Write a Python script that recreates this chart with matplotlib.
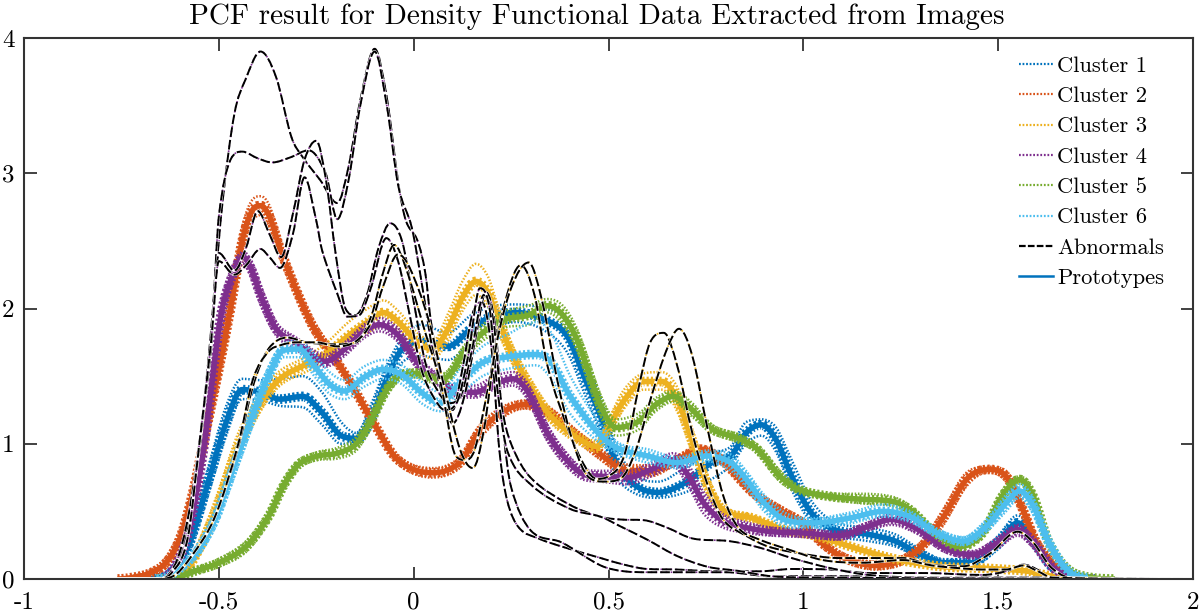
import matplotlib
matplotlib.use('Agg')
import matplotlib.pyplot as plt
from matplotlib.lines import Line2D
from matplotlib.patches import PathPatch
from matplotlib.path import Path

# cluster colours (matlab default order)
colors = ['#0072BD', '#D95319', '#EDB120', '#7E2F8E', '#77AC30', '#4DBEEE']
labels = ['Cluster 1', 'Cluster 2', 'Cluster 3', 'Cluster 4', 'Cluster 5', 'Cluster 6']

# cluster 1
c1_x = [-1,-.7,-.638,-.579,-.53,-.481,-.44,-.393,-.343,-.285,-.235,-.186,-.147,-.108,-.069,-.03,.02,.088,.147,.206,.265,.334,.393,.44,.48,.52,.57,.627,.696,.765,.814,.853,.892,.93,.97,1.02,1.08,1.167,1.236,1.295,1.363,1.432,1.5,1.55,1.59,1.638,1.70,1.75,2]
c1_y = [0,0,.02,.24,.69,1.16,1.40,1.38,1.33,1.35,1.23,1.06,1.04,1.2,1.48,1.70,1.75,1.72,1.85,1.95,1.97,1.92,1.80,1.48,1.2,.86,.69,.64,.71,.86,.91,1.08,1.14,1.03,.76,.49,.365,.33,.28,.19,.12,.12,.27,.415,.29,.09,.01,0,0]
c1_hi = [0,0,.04,.32,.8,1.28,1.48,1.47,1.48,1.50,1.38,1.16,1.08,1.3,1.58,1.78,1.88,1.82,1.95,2.02,2.03,2.0,1.92,1.62,1.33,.98,.76,.72,.82,.93,.98,1.16,1.18,1.12,.88,.58,.42,.38,.33,.23,.14,.15,.32,.47,.35,.12,.02,0,0]
c1_lo = [0,0,.01,.18,.6,1.06,1.33,1.32,1.28,1.27,1.14,1.0,1.0,1.12,1.4,1.6,1.65,1.62,1.75,1.86,1.9,1.84,1.68,1.36,1.08,.76,.63,.6,.64,.74,.84,1.0,1.06,.94,.66,.42,.32,.28,.24,.16,.1,.1,.22,.36,.24,.06,0,0,0]

# cluster 2
c2_x = [-1,-.76,-.725,-.68,-.636,-.6,-.57,-.54,-.5,-.47,-.44,-.415,-.393,-.37,-.34,-.29,-.255,-.2,-.16,-.108,-.04,.05,.118,.167,.226,.285,.343,.41,.48,.54,.607,.676,.735,.79,.87,.94,1.0,1.05,1.11,1.185,1.255,1.31,1.36,1.42,1.475,1.52,1.56,1.6,1.65,1.7,1.75,2]
c2_y = [0,0,.01,.04,.12,.3,.6,1.0,1.55,2.0,2.5,2.72,2.76,2.68,2.42,2.06,1.85,1.62,1.44,1.18,.88,.785,.86,1.08,1.23,1.29,1.24,1.08,.92,.81,.80,.88,.96,.88,.64,.51,.41,.26,.15,.10,.14,.26,.46,.74,.81,.76,.535,.26,.09,.01,0,0]
c2_hi = [0,0,.02,.06,.16,.36,.68,1.1,1.65,2.1,2.6,2.8,2.83,2.76,2.49,2.11,1.9,1.66,1.47,1.21,.91,.82,.9,1.13,1.27,1.32,1.28,1.12,.96,.85,.84,.91,.98,.91,.67,.54,.44,.29,.18,.13,.17,.3,.52,.79,.83,.8,.59,.31,.12,.02,0,0]
c2_lo = [0,0,0,.02,.08,.24,.52,.9,1.45,1.9,2.4,2.64,2.69,2.6,2.35,2.01,1.8,1.58,1.41,1.15,.85,.75,.82,1.03,1.19,1.26,1.2,1.04,.88,.77,.76,.85,.94,.85,.61,.48,.38,.23,.12,.07,.11,.22,.4,.69,.79,.72,.48,.21,.06,0,0,0]

# cluster 3
c3_x = [-1,-.66,-.618,-.57,-.51,-.45,-.393,-.343,-.285,-.226,-.167,-.118,-.078,-.039,.01,.05,.088,.125,.16,.19,.216,.255,.304,.353,.412,.47,.5,.54,.59,.637,.676,.716,.755,.794,.87,.95,1.03,1.11,1.19,1.265,1.363,1.46,1.52,1.57,1.62,1.68,2]
c3_y = [0,0,.01,.12,.49,.98,1.30,1.48,1.575,1.66,1.80,1.90,1.97,1.90,1.75,1.70,1.85,2.08,2.2,2.12,1.92,1.65,1.40,1.2,1.06,.98,1.12,1.32,1.46,1.46,1.33,1.01,.69,.51,.45,.365,.32,.25,.18,.13,.09,.08,.07,.06,.03,0,0]
c3_hi = [0,0,.02,.16,.58,1.08,1.38,1.54,1.63,1.74,1.9,2.0,2.06,1.98,1.82,1.76,1.96,2.2,2.33,2.24,2.02,1.72,1.46,1.25,1.1,1.02,1.18,1.4,1.52,1.53,1.42,1.1,.76,.54,.47,.38,.33,.26,.19,.14,.1,.09,.08,.07,.04,0,0]
c3_lo = [0,0,0,.09,.42,.9,1.24,1.43,1.52,1.6,1.72,1.82,1.88,1.82,1.68,1.63,1.76,1.98,2.1,2.02,1.83,1.58,1.34,1.15,1.02,.94,1.06,1.26,1.4,1.4,1.24,.92,.62,.48,.43,.35,.31,.24,.17,.12,.08,.07,.06,.05,.02,0,0]

# cluster 4
c4_x = [-1,-.66,-.618,-.579,-.54,-.495,-.46,-.437,-.415,-.393,-.353,-.304,-.226,-.177,-.128,-.088,-.039,.01,.059,.108,.157,.206,.255,.294,.343,.393,.44,.48,.55,.61,.666,.706,.745,.794,.853,.92,1.0,1.09,1.167,1.226,1.295,1.363,1.432,1.5,1.55,1.59,1.638,1.70,1.75,2]
c4_y = [0,0,.07,.34,.95,1.94,2.28,2.38,2.28,2.1,1.85,1.75,1.61,1.70,1.83,1.88,1.80,1.60,1.48,1.39,1.38,1.44,1.48,1.38,1.08,.88,.77,.76,.75,.81,.88,.76,.56,.43,.38,.35,.34,.32,.39,.44,.365,.23,.18,.27,.365,.27,.09,.01,0,0]
c4_hi = [0,0,.09,.4,1.05,2.02,2.34,2.42,2.34,2.17,1.9,1.79,1.66,1.75,1.88,1.93,1.85,1.65,1.52,1.43,1.43,1.5,1.53,1.44,1.14,.93,.81,.8,.8,.86,.93,.84,.64,.48,.42,.38,.37,.35,.42,.48,.4,.26,.2,.31,.4,.31,.11,.02,0,0]
c4_lo = [0,0,.05,.28,.86,1.86,2.22,2.33,2.22,2.03,1.8,1.7,1.57,1.65,1.78,1.83,1.75,1.55,1.44,1.35,1.34,1.4,1.43,1.32,1.02,.83,.73,.72,.7,.76,.83,.68,.48,.38,.34,.32,.31,.29,.36,.4,.33,.2,.16,.23,.32,.23,.07,0,0,0]

# cluster 5
c5_x = [-1,-.66,-.628,-.56,-.5,-.43,-.373,-.334,-.294,-.245,-.196,-.147,-.108,-.069,-.03,.01,.05,.083,.128,.177,.235,.294,.343,.383,.422,.48,.52,.58,.617,.666,.715,.765,.833,.882,.94,.99,1.07,1.147,1.226,1.275,1.334,1.40,1.46,1.51,1.555,1.59,1.63,1.68,1.74,1.8,2]
c5_y = [0,0,0,.06,.12,.24,.46,.69,.85,.91,.93,1.0,1.18,1.40,1.51,1.52,1.48,1.49,1.67,1.82,1.92,1.95,2.02,1.95,1.75,1.28,1.12,1.17,1.28,1.35,1.25,1.11,1.04,.96,.76,.66,.61,.59,.575,.51,.35,.24,.34,.61,.735,.61,.27,.07,.01,0,0]
c5_hi = [0,0,.01,.08,.15,.28,.5,.73,.88,.94,.97,1.05,1.23,1.44,1.54,1.55,1.51,1.53,1.72,1.88,1.98,2.02,2.07,2.02,1.83,1.36,1.18,1.23,1.33,1.39,1.3,1.14,1.07,.99,.8,.68,.63,.63,.61,.54,.37,.25,.37,.65,.76,.65,.3,.08,.02,0,0]
c5_lo = [0,0,0,.04,.09,.2,.42,.65,.82,.88,.89,.95,1.13,1.36,1.48,1.49,1.45,1.45,1.62,1.76,1.86,1.88,1.97,1.88,1.67,1.2,1.06,1.11,1.23,1.31,1.2,1.08,1.01,.93,.72,.64,.59,.56,.54,.48,.33,.23,.31,.57,.71,.57,.24,.06,0,0,0]

# cluster 6
c6_x = [-1,-.66,-.628,-.56,-.51,-.47,-.42,-.373,-.334,-.294,-.255,-.216,-.177,-.128,-.078,-.03,.02,.069,.118,.177,.235,.314,.353,.402,.48,.53,.6,.676,.755,.814,.853,.90,.96,1.03,1.118,1.206,1.275,1.343,1.41,1.47,1.52,1.555,1.59,1.63,1.68,1.73,2]
c6_y = [0,0,.02,.19,.44,.76,1.16,1.5,1.69,1.70,1.575,1.44,1.39,1.49,1.55,1.51,1.38,1.30,1.45,1.6,1.64,1.66,1.6,1.35,1.06,.96,.91,.86,.91,.86,.74,.56,.43,.415,.45,.50,.46,.34,.28,.39,.56,.65,.54,.27,.06,.01,0]
c6_hi = [0,0,.03,.23,.5,.84,1.24,1.56,1.74,1.76,1.66,1.53,1.47,1.57,1.62,1.58,1.46,1.38,1.55,1.72,1.8,1.9,1.82,1.5,1.14,1.0,.96,.9,.95,.92,.8,.62,.48,.45,.49,.55,.5,.37,.31,.44,.62,.7,.6,.31,.08,.02,0]
c6_lo = [0,0,.01,.15,.38,.68,1.08,1.44,1.64,1.64,1.5,1.37,1.33,1.42,1.48,1.44,1.3,1.24,1.36,1.5,1.55,1.58,1.48,1.22,1.0,.92,.86,.82,.87,.8,.68,.5,.38,.38,.41,.46,.42,.31,.25,.35,.5,.6,.48,.23,.04,0,0]

# abnormal curves
ab1_x = [-1,-.66,-.63,-.6,-.57,-.54,-.515,-.49,-.46,-.432,-.393,-.353,-.314,-.285,-.24,-.196,-.167,-.137,-.10,-.069,-.039,-.02,.01,.03,.044,.07,.1,.125,.15,.175,.2,.22,.24,.27,.32,.38,.48,.54,.6,.676,.77,.89,.97,1.07,1.167,1.31,1.46,1.52,1.565,1.6,1.63,2]
ab1_y = [0,0,.03,.18,.55,1.2,2.0,2.8,3.44,3.69,3.90,3.71,3.27,3.12,2.95,2.78,3.05,3.54,3.92,3.56,2.92,2.65,2.5,2.26,1.91,1.5,1.25,1.55,1.95,2.05,1.7,.95,.58,.38,.3,.24,.155,.106,.074,.07,.057,.057,.074,.07,.044,.044,.03,.057,.106,.07,.01,0]
ab2_x = [-1,-.66,-.63,-.6,-.57,-.54,-.515,-.5,-.47,-.44,-.4,-.363,-.314,-.27,-.226,-.196,-.167,-.137,-.10,-.069,-.039,-.005,.02,.045,.07,.1,.13,.16,.185,.21,.23,.25,.3,.38,.48,.54,.6,.7,.8,.92,1.1,1.3,1.5,1.6,2]
ab2_y = [0,0,.03,.2,.6,1.25,2.0,2.68,3.1,3.16,3.11,3.08,3.12,3.17,3.0,2.66,2.95,3.5,3.9,3.5,2.9,2.6,2.2,1.75,1.4,1.15,1.35,1.8,2.12,1.85,1.1,.68,.36,.27,.1,.057,.05,.05,.05,.02,.02,.01,.01,.01,0]
ab3_x = [-1,-.66,-.62,-.58,-.55,-.52,-.5,-.46,-.43,-.4,-.37,-.34,-.31,-.28,-.25,-.225,-.2,-.175,-.15,-.12,-.09,-.06,-.03,0,.03,.06,.09,.12,.15,.18,.205,.225,.25,.3,.4,.48,.53,.59,.65,.715,.81,.89,.97,1.07,1.167,1.3,2]
ab3_y = [0,0,.05,.3,1.0,1.7,2.41,2.28,2.45,2.72,2.55,2.38,2.7,3.1,3.24,2.95,2.4,2.0,1.95,2.1,2.45,2.63,2.5,2.05,1.6,1.4,1.3,1.35,1.7,2.1,1.9,1.3,1.0,.75,.55,.46,.44,.435,.38,.30,.28,.23,.155,.08,.03,.01,0]
ab4_x = [-1,-.66,-.62,-.58,-.55,-.52,-.5,-.46,-.43,-.393,-.37,-.343,-.31,-.28,-.25,-.235,-.196,-.17,-.14,-.11,-.07,-.04,-.01,.02,.05,.08,.11,.14,.17,.195,.215,.24,.3,.4,.48,.53,.6,.676,.755,.833,.92,1.05,2]
ab4_y = [0,0,.05,.3,1.0,1.75,2.35,2.25,2.32,2.44,2.38,2.3,2.55,2.97,2.65,2.43,2.11,1.94,1.95,2.15,2.52,2.35,1.95,1.55,1.35,1.25,1.3,1.65,2.15,2.0,1.4,.95,.7,.52,.46,.39,.29,.17,.09,.06,.02,.01,0]
ab5_x = [-1,-.66,-.618,-.57,-.51,-.45,-.412,-.373,-.324,-.275,-.196,-.147,-.108,-.08,-.05,-.02,.03,.069,.108,.132,.157,.19,.23,.275,.31,.343,.40,.44,.47,.5,.54,.58,.607,.642,.676,.715,.755,.794,.853,.91,.99,1.09,1.167,1.255,1.325,1.41,1.48,1.55,1.59,1.638,1.7,2]
ab5_y = [0,0,.02,.17,.46,.98,1.43,1.70,1.785,1.75,1.735,1.75,1.95,2.25,2.47,2.3,1.82,1.45,.91,.88,.96,1.4,2.0,2.32,2.1,1.58,1.08,.83,.74,.76,.91,1.45,1.75,1.82,1.58,1.08,.69,.44,.32,.24,.19,.155,.155,.155,.106,.094,.19,.35,.27,.08,0,0]
ab6_x = [-1,-.66,-.618,-.57,-.51,-.45,-.412,-.373,-.34,-.3,-.25,-.196,-.147,-.108,-.08,-.04,-.01,.04,.08,.12,.152,.18,.21,.25,.295,.33,.37,.41,.45,.49,.53,.57,.61,.65,.681,.715,.755,.794,.833,.88,.96,1.05,1.15,1.255,1.33,1.4,1.46,1.52,1.565,1.6,1.64,2]
ab6_y = [0,0,.02,.17,.46,1.0,1.48,1.68,1.73,1.75,1.75,1.72,1.76,1.9,2.15,2.4,2.3,1.9,1.4,.95,.82,1.1,1.7,2.15,2.34,2.05,1.45,1.0,.75,.72,.74,.95,1.35,1.7,1.85,1.65,1.1,.62,.38,.3,.22,.14,.12,.14,.1,.08,.07,.07,.1,.06,.01,0]

x_ticks = [-1, -0.5, 0, 0.5, 1, 1.5, 2]
x_tick_labels = ['-1', '-0.5', '0', '0.5', '1', '1.5', '2']
y_ticks = [0, 1, 2, 3, 4]
y_tick_labels = ['0', '1', '2', '3', '4']

clusters = [(c1_x, c1_y, c1_hi, c1_lo), (c2_x, c2_y, c2_hi, c2_lo), (c3_x, c3_y, c3_hi, c3_lo),
            (c4_x, c4_y, c4_hi, c4_lo), (c5_x, c5_y, c5_hi, c5_lo), (c6_x, c6_y, c6_hi, c6_lo)]
abnormals = [(ab1_x, ab1_y, colors[3]), (ab2_x, ab2_y, colors[3]), (ab3_x, ab3_y, colors[3]),
             (ab4_x, ab4_y, colors[3]), (ab5_x, ab5_y, colors[2]), (ab6_x, ab6_y, colors[2])]


def smooth_line(ax, x, y, **kw):
    # draw a curved path through the read points, so peaks do not look like corners
    slopes = []
    for i in range(len(x)):
        if i == 0 or i == len(x) - 1:
            slopes.append(0)
            continue
        d0 = (y[i] - y[i - 1]) / (x[i] - x[i - 1])
        d1 = (y[i + 1] - y[i]) / (x[i + 1] - x[i])
        if d0 * d1 <= 0:
            slopes.append(0)
        else:
            m = (y[i + 1] - y[i - 1]) / (x[i + 1] - x[i - 1])
            slopes.append(max(min(m, 3 * d0, 3 * d1), min(0, m)) if m > 0 else min(max(m, 3 * d0, 3 * d1), 0))
    verts = [(x[0], y[0])]
    codes = [Path.MOVETO]
    for i in range(len(x) - 1):
        h = (x[i + 1] - x[i]) / 3
        verts += [(x[i] + h, y[i] + slopes[i] * h), (x[i + 1] - h, y[i + 1] - slopes[i + 1] * h), (x[i + 1], y[i + 1])]
        codes += [Path.CURVE4, Path.CURVE4, Path.CURVE4]
    ax.add_patch(PathPatch(Path(verts, codes), fill=False, **kw))


plt.rcParams['font.family'] = ['cmr10', 'DejaVu Serif']
plt.rcParams['axes.formatter.use_mathtext'] = True

fig = plt.figure(figsize=(12, 6.14), dpi=100)
ax = fig.add_axes([24 / 1200, 1 - 579 / 614, 1169 / 1200, 541 / 614])

dots = (0, (0.6, 0.7))
hatch = (0, (0.22, 0.22))
for (x, y, hi, lo), c in zip(clusters, colors):
    # leave out the flat zero ends, thick lines would cover the axis there
    smooth_line(ax, x[1:-1], hi[1:-1], edgecolor=c, lw=1.8, linestyle=dots, zorder=2)
    smooth_line(ax, x[1:-1], lo[1:-1], edgecolor=c, lw=1.8, linestyle=dots, zorder=2)
    smooth_line(ax, x[1:-1], y[1:-1], edgecolor=c, lw=7, linestyle=hatch, zorder=2)
    smooth_line(ax, x[1:-1], y[1:-1], edgecolor=c, lw=4, zorder=2)

for x, y, c in abnormals:
    smooth_line(ax, x, y, edgecolor='white', lw=2.0, zorder=3)
    smooth_line(ax, x, y, edgecolor=c, lw=1.2, linestyle=(0, (1, 2)), zorder=3)
    smooth_line(ax, x, y, edgecolor='black', lw=1.4, linestyle=(0, (5, 1.6)), zorder=3)

ax.set_xlim(-1, 2)
ax.set_ylim(0, 4)
ax.set_xticks(x_ticks)
ax.set_xticklabels(x_tick_labels)
ax.set_yticks(y_ticks)
ax.set_yticklabels(y_tick_labels)
ax.tick_params(axis='both', direction='in', top=True, right=True, length=9, width=1.3,
               color='#333333', labelsize=18, pad=9)
ax.tick_params(axis='y', pad=7)
for s in ax.spines.values():
    s.set_linewidth(1.5)
    s.set_edgecolor('#333333')
    s.set_zorder(4)

ax.set_title('PCF result for Density Functional Data Extracted from Images', fontsize=21, pad=10,
             x=(597 - 24) / 1169)

handles = [Line2D([], [], color=c, lw=1.6, linestyle=(0, (0.8, 0.8))) for c in colors]
handles.append(Line2D([], [], color='black', lw=1.6, linestyle=(0, (3, 1))))
handles.append(Line2D([], [], color=colors[0], lw=1.8))
ax.legend(handles, labels + ['Abnormals', 'Prototypes'], loc='upper left',
          bbox_to_anchor=(1019 / 1200, 1 - 56 / 614), bbox_transform=fig.transFigure,
          frameon=False, fontsize=16.2, handlelength=1.5, handletextpad=0.2,
          labelspacing=0.47, borderpad=0, borderaxespad=0)

fig.savefig('out.png', dpi=100)
